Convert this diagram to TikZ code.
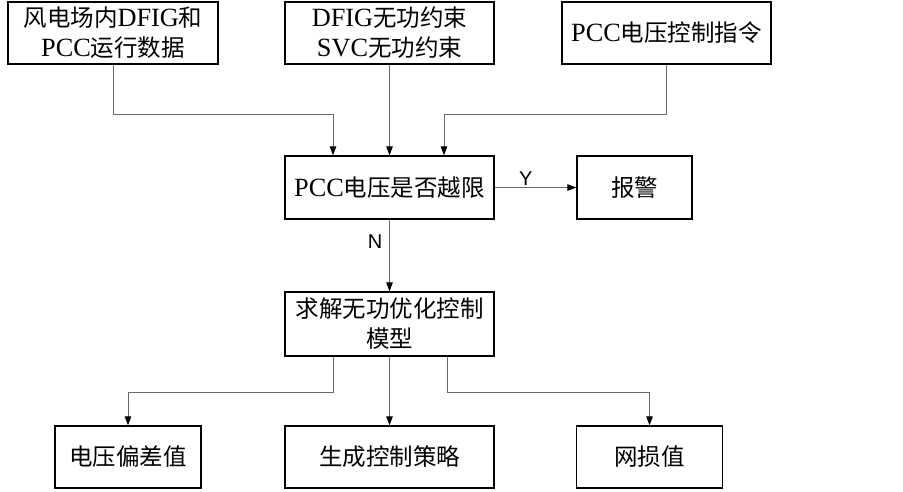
\documentclass[tikz,border=0pt]{standalone}
\usepackage{fontspec}
\setmainfont[Scale=1.12]{Liberation Serif}
\newfontfamily\zhfont{Noto Sans CJK SC}
\newfontfamily\sanslat{Liberation Sans}
\newcommand{\zh}[1]{{\zhfont #1}}
\usetikzlibrary{arrows.meta}
\definecolor{linegray}{RGB}{105,105,105}
\begin{document}
\begin{tikzpicture}[x=1pt,y=-1pt,
  blk/.style={draw=black,line width=1.3pt,minimum height=62pt,inner sep=2pt,align=center,font=\fontsize{23.5}{30}\selectfont},
  conn/.style={draw=linegray,line width=0.9pt,-{Triangle[length=9pt,width=6.5pt,color=black]}},
  lab/.style={font=\sanslat\fontsize{20}{22}\selectfont}]
\useasboundingbox (0,0) rectangle (903,491);
\node[blk,minimum width=210pt] (A) at (113,33) {\zh{风电场内}DFIG\zh{和}\\PCC\zh{运行数据}};
\node[blk,minimum width=209pt] (B) at (389.5,33) {DFIG\zh{无功约束}\\SVC\zh{无功约束}};
\node[blk,minimum width=209pt] (C) at (666.5,33) {PCC\zh{电压控制指令}};
\node[blk,minimum width=209pt,minimum height=63pt] (D) at (389.5,187.5) {PCC\zh{电压是否越限}};
\node[blk,minimum width=115pt,minimum height=63pt] (E) at (634.5,187.5) {\zh{报警}};
\node[blk,minimum width=209pt,minimum height=64pt] (F) at (389.5,324) {\zh{求解无功优化控制}\\\zh{模型}};
\node[blk,minimum width=146pt] (G) at (128,457) {\zh{电压偏差值}};
\node[blk,minimum width=209pt] (H) at (389.5,457) {\zh{生成控制策略}};
\node[blk,minimum width=146pt] (I) at (649.5,457) {\zh{网损值}};
\draw[conn] (A.south) -- ++(0,50) -| ([xshift=-56.5pt]D.north);
\draw[conn] (B.south) -- (D.north);
\draw[conn] (C.south) -- ++(0,50) -| ([xshift=54.5pt]D.north);
\draw[conn] (D.east) -- node[lab,pos=0.38,above=-2pt] {Y} (E.west);
\draw[conn] (D.south) -- node[lab,pos=0.3,left=3pt] {N} (F.north);
\draw[conn] ([xshift=-56.5pt]F.south) -- ++(0,36) -| (G.north);
\draw[conn] (F.south) -- (H.north);
\draw[conn] ([xshift=57.5pt]F.south) -- ++(0,36) -| (I.north);
\end{tikzpicture}
\end{document}
